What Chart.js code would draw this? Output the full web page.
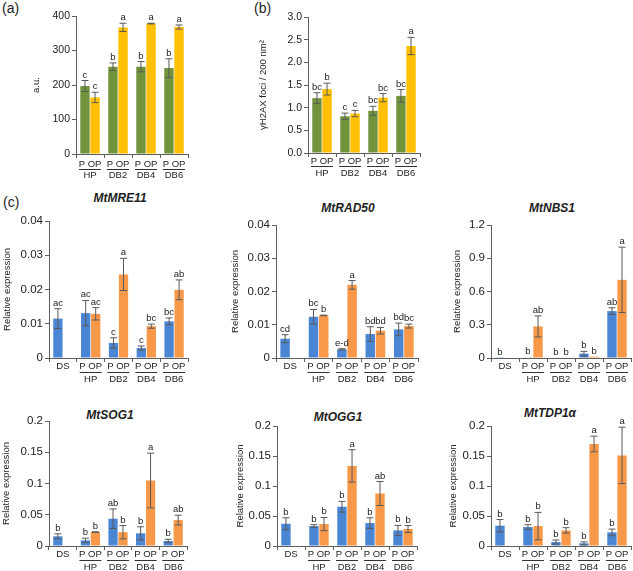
<!DOCTYPE html>
<html>
<head>
<meta charset="utf-8">
<script src="https://cdn.jsdelivr.net/npm/chart.js@4"></script>
<style>
  body { margin: 0; width: 633px; height: 571px; position: relative; background: #fff; overflow: hidden;
         font-family: 'Liberation Sans', Arial, sans-serif; color: #222; }
  canvas { position: absolute; }
  .lbl { position: absolute; font-size: 14px; line-height: 16px; }
  .gene { position: absolute; width: 140px; text-align: center; font-size: 12px; line-height: 14px;
          font-weight: bold; font-style: italic; }
</style>
</head>
<body>
<div class="lbl" style="left:2px;top:0px">(a)</div>
<div class="lbl" style="left:254px;top:0px">(b)</div>
<div class="lbl" style="left:3px;top:194px">(c)</div>
<div class="gene" style="left:50px;top:191px">MtMRE11</div>
<div class="gene" style="left:278px;top:201px">MtRAD50</div>
<div class="gene" style="left:482px;top:201px">MtNBS1</div>
<div class="gene" style="left:40px;top:408px">MtSOG1</div>
<div class="gene" style="left:268px;top:410px">MtOGG1</div>
<div class="gene" style="left:480px;top:406px">MtTDP1α</div>
<script>
const groupsAB = ['HP', 'DB2', 'DB4', 'DB6'];
const groupsC = ['DS', 'HP', 'DB2', 'DB4', 'DB6'];

// (a) a.u.
const aP = [197, 253, 253, 249];
const aPErr = [16, 11, 15, 27];
const aOP = [164, 367, 378, 368];
const aOPErr = [15, 12, 1, 6];
const aPLetters = ['c', 'b', 'b', 'b'];
const aOPLetters = ['c', 'a', 'a', 'a'];
const ticksA = [0, 100, 200, 300, 400];

// (b) γH2AX foci
const bP = [1.21, 0.81, 0.93, 1.26];
const bPErr = [0.12, 0.07, 0.10, 0.14];
const bOP = [1.41, 0.87, 1.22, 2.36];
const bOPErr = [0.13, 0.07, 0.09, 0.19];
const bPLetters = ['bc', 'c', 'bc', 'bc'];
const bOPLetters = ['b', 'c', 'bc', 'a'];
const ticksB = [0, 0.5, 1, 1.5, 2, 2.5, 3];

// (c) relative expression, P (with DS) and OP
const mreP = [0.0115, 0.0131, 0.0044, 0.0029, 0.0107];
const mrePErr = [0.0029, 0.0037, 0.0015, 0.0006, 0.0010];
const mreOP = [null, 0.0129, 0.0244, 0.0093, 0.0199];
const mreOPErr = [0, 0.0018, 0.0047, 0.0006, 0.0029];
const mrePLetters = ['ac', 'ac', 'c', 'c', 'bc'];
const mreOPLetters = ['', 'ac', 'a', 'bc', 'ab'];

const radP = [0.0058, 0.0124, 0.0026, 0.0072, 0.0086];
const radPErr = [0.0012, 0.0022, 0.0002, 0.0022, 0.0019];
const radOP = [null, 0.0128, 0.0220, 0.0082, 0.0096];
const radOPErr = [0, 0.0001, 0.0013, 0.0010, 0.0006];
const radPLetters = ['cd', 'bc', 'e-d', 'bd', 'bd'];
const radOPLetters = ['', 'b', 'a', 'bd', 'bc'];

const nbsP = [0.002, 0.006, 0.004, 0.039, 0.423];
const nbsPErr = [0, 0, 0, 0.021, 0.03];
const nbsOP = [null, 0.285, 0.004, 0.012, 0.705];
const nbsOPErr = [0, 0.095, 0, 0, 0.295];
const nbsPLetters = ['b', 'b', 'b', 'b', 'ab'];
const nbsOPLetters = ['', 'ab', 'b', 'b', 'a'];

const sogP = [0.0155, 0.009, 0.0436, 0.0203, 0.008];
const sogPErr = [0.004, 0.0035, 0.0157, 0.0105, 0.0027];
const sogOP = [null, 0.0223, 0.0221, 0.1048, 0.0415];
const sogOPErr = [0, 0.0005, 0.0106, 0.0437, 0.0078];
const sogPLetters = ['b', 'b', 'ab', 'b', 'b'];
const sogOPLetters = ['', 'b', 'b', 'a', 'ab'];

const oggP = [0.0371, 0.0332, 0.0654, 0.0382, 0.026];
const oggPErr = [0.01, 0.0023, 0.0089, 0.0088, 0.0083];
const oggOP = [null, 0.0366, 0.1335, 0.0875, 0.0283];
const oggOPErr = [0, 0.011, 0.027, 0.02, 0.0058];
const oggPLetters = ['b', 'b', 'b', 'b', 'b'];
const oggOPLetters = ['', 'b', 'a', 'ab', 'b'];

const tdpP = [0.0338, 0.0316, 0.0066, 0.0044, 0.0227];
const tdpPErr = [0.0103, 0.0039, 0.0034, 0.0025, 0.0055];
const tdpOP = [null, 0.0332, 0.026, 0.170, 0.151];
const tdpOPErr = [0, 0.0228, 0.0045, 0.013, 0.047];
const tdpPLetters = ['b', 'b', 'b', 'b', 'b'];
const tdpOPLetters = ['', 'b', 'b', 'a', 'a'];

const ticksSmall = [0, 0.01, 0.02, 0.03, 0.04];
const ticksNBS = [0, 0.3, 0.6, 0.9, 1.2];
const ticksMid = [0, 0.05, 0.1, 0.15, 0.2];

const FONT = "'Liberation Sans', Arial, sans-serif";
const AXIS = '#5f5f5f';
const TEXT = '#222';
const ERR = '#595959';

// draws error bars, letters and the line under "P OP"
const extras = {
  id: 'extras',
  afterDatasetsDraw(chart, args, opts) {
    const ctx = chart.ctx;
    const y = chart.scales.y;
    ctx.save();
    chart.data.datasets.forEach((ds, di) => {
      const meta = chart.getDatasetMeta(di);
      meta.data.forEach((bar, i) => {
        const v = ds.data[i];
        if (v == null) return;
        const e = ds.err[i] || 0;
        const top = y.getPixelForValue(v + e);
        const bot = y.getPixelForValue(v - e);
        if (e > 0) {
          ctx.strokeStyle = ERR;
          ctx.lineWidth = 1;
          ctx.beginPath();
          ctx.moveTo(bar.x, top); ctx.lineTo(bar.x, bot);
          ctx.moveTo(bar.x - 3.5, top); ctx.lineTo(bar.x + 3.5, top);
          ctx.moveTo(bar.x - 3.5, bot); ctx.lineTo(bar.x + 3.5, bot);
          ctx.stroke();
        }
        ctx.fillStyle = TEXT;
        ctx.font = '9.5px ' + FONT;
        ctx.textAlign = 'center';
        ctx.textBaseline = 'alphabetic';
        ctx.fillText(ds.letters[i], bar.x, Math.min(top, bar.y) - 3);
      });
    });
    const xs = chart.scales.x;
    ctx.strokeStyle = '#333';
    ctx.lineWidth = 1;
    chart.data.labels.forEach((g, i) => {
      if (g === 'DS') return;
      const cx = xs.getPixelForValue(i);
      const ly = Math.round(chart.chartArea.bottom + opts.lineOffset) + 0.5;
      ctx.beginPath();
      ctx.moveTo(cx - 11, ly); ctx.lineTo(cx + 11, ly);
      ctx.stroke();
    });
    ctx.restore();
  }
};

function makePanel(p) {
  const [cl, ct, cw, ch] = p.box;
  const [al, at, ar, ab] = p.area;
  const cv = document.createElement('canvas');
  cv.width = cw; cv.height = ch;
  cv.style.left = cl + 'px'; cv.style.top = ct + 'px';
  document.body.appendChild(cv);
  new Chart(cv, {
    type: 'bar',
    data: {
      labels: p.groups,
      datasets: [
        { data: p.pVals, err: p.pErr, letters: p.pLetters, backgroundColor: p.colors[0] },
        { data: p.opVals, err: p.opErr, letters: p.opLetters, backgroundColor: p.colors[1] }
      ]
    },
    options: {
      responsive: false,
      animation: false,
      devicePixelRatio: 1,
      layout: { padding: { left: 0, top: at - ct, right: cl + cw - ar, bottom: 0 } },
      datasets: { bar: { categoryPercentage: 0.72, barPercentage: 0.93 } },
      plugins: {
        legend: { display: false },
        tooltip: { enabled: false },
        extras: { lineOffset: p.lineOffset }
      },
      scales: {
        x: {
          offset: true,
          grid: { offset: true, drawOnChartArea: false, drawTicks: true, tickLength: 4, color: AXIS },
          border: { color: AXIS, width: 1 },
          ticks: {
            color: TEXT, autoSkip: false, maxRotation: 0, padding: p.xPad,
            font: { family: FONT, size: 9.5, lineHeight: p.lineHeight },
            callback(val) {
              const g = this.getLabelForValue(val);
              return g === 'DS' ? 'DS' : ['P OP', g];
            }
          },
          afterFit(s) { s.height = ct + ch - ab; }
        },
        y: {
          min: p.ticks[0], max: p.ticks[p.ticks.length - 1],
          afterBuildTicks(s) { s.ticks = p.ticks.map(v => ({ value: v })); },
          grid: { drawOnChartArea: false, drawTicks: true, tickLength: 4, color: AXIS },
          border: { color: AXIS, width: 1 },
          ticks: {
            color: TEXT, padding: 2,
            font: { family: FONT, size: p.yFont },
            callback: p.fmt
          },
          title: {
            display: true, text: p.yTitle, color: TEXT,
            font: { family: FONT, size: 9.5, lineHeight: 1.2 },
            padding: { top: p.titleX - cl - 5.7, bottom: 0 }
          },
          afterFit(s) { s.width = al - cl; }
        }
      }
    },
    plugins: [extras]
  });
}

const GY = ['#71933C', '#FFC000'];
const BO = ['#4A86D4', '#F8994A'];
const plain = v => String(v);
const rowC = { lineHeight: '13px', xPad: -2, lineOffset: 14, yFont: 11.5 };

makePanel({ box: [0, 0, 200, 185], area: [76, 16, 188, 154], groups: groupsAB,
  pVals: aP, pErr: aPErr, pLetters: aPLetters, opVals: aOP, opErr: aOPErr, opLetters: aOPLetters,
  colors: GY, ticks: ticksA, fmt: plain, yTitle: 'a.u.', titleX: 36,
  lineHeight: '11px', xPad: 1, lineOffset: 15, yFont: 10.5 });

makePanel({ box: [200, 0, 225, 185], area: [308, 17, 420, 153], groups: groupsAB,
  pVals: bP, pErr: bPErr, pLetters: bPLetters, opVals: bOP, opErr: bOPErr, opLetters: bOPLetters,
  colors: GY, ticks: ticksB, fmt: v => v.toFixed(1), yTitle: 'γH2AX foci / 200 nm²', titleX: 263,
  lineHeight: '12.5px', xPad: -2, lineOffset: 12.5, yFont: 10.5 });

makePanel(Object.assign({ box: [0, 185, 212, 210], area: [49, 221, 188, 358], groups: groupsC,
  pVals: mreP, pErr: mrePErr, pLetters: mrePLetters, opVals: mreOP, opErr: mreOPErr, opLetters: mreOPLetters,
  colors: BO, ticks: ticksSmall, fmt: plain, yTitle: 'Relative expression', titleX: 7 }, rowC));

makePanel(Object.assign({ box: [212, 185, 212, 210], area: [276, 225, 418, 358], groups: groupsC,
  pVals: radP, pErr: radPErr, pLetters: radPLetters, opVals: radOP, opErr: radOPErr, opLetters: radOPLetters,
  colors: BO, ticks: ticksSmall, fmt: plain, yTitle: 'Relative expression', titleX: 235 }, rowC));

makePanel(Object.assign({ box: [425, 185, 208, 210], area: [491, 225, 631, 358], groups: groupsC,
  pVals: nbsP, pErr: nbsPErr, pLetters: nbsPLetters, opVals: nbsOP, opErr: nbsOPErr, opLetters: nbsOPLetters,
  colors: BO, ticks: ticksNBS, fmt: plain, yTitle: 'Relative expression', titleX: 457 }, rowC));

makePanel(Object.assign({ box: [0, 385, 212, 186], area: [49, 421, 187, 546], groups: groupsC,
  pVals: sogP, pErr: sogPErr, pLetters: sogPLetters, opVals: sogOP, opErr: sogOPErr, opLetters: sogOPLetters,
  colors: BO, ticks: ticksMid, fmt: plain, yTitle: 'Relative expression', titleX: 6 }, rowC));

makePanel(Object.assign({ box: [212, 385, 212, 186], area: [277, 426, 417, 546], groups: groupsC,
  pVals: oggP, pErr: oggPErr, pLetters: oggPLetters, opVals: oggOP, opErr: oggOPErr, opLetters: oggOPLetters,
  colors: BO, ticks: ticksMid, fmt: plain, yTitle: 'Relative expression', titleX: 240 }, rowC));

makePanel(Object.assign({ box: [425, 385, 208, 186], area: [491, 426, 631, 546], groups: groupsC,
  pVals: tdpP, pErr: tdpPErr, pLetters: tdpPLetters, opVals: tdpOP, opErr: tdpOPErr, opLetters: tdpOPLetters,
  colors: BO, ticks: ticksMid, fmt: plain, yTitle: 'Relative expression', titleX: 453 }, rowC));
</script>
</body>
</html>
